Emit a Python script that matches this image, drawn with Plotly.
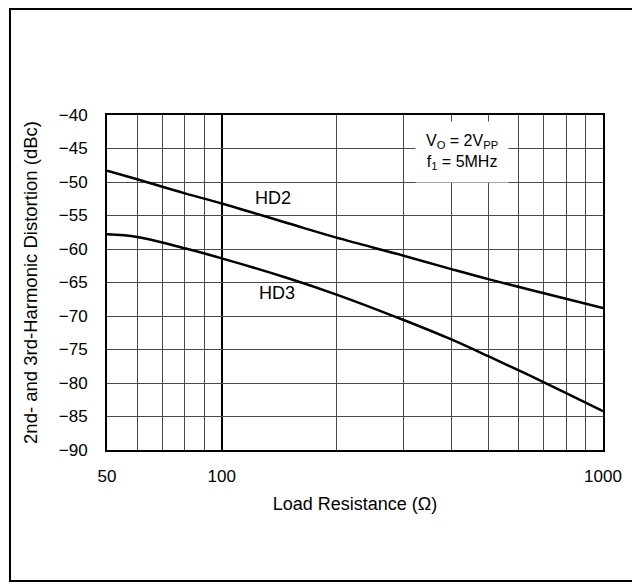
import plotly.graph_objects as go

# load resistance (ohm) and distortion
load_ohm = [50, 60, 80, 100, 150, 200, 300, 400, 500, 700, 1000]
hd2_dbc = [-48.3, -49.6, -51.7, -53.2, -56.2, -58.3, -61.0, -63.0, -64.5, -66.6, -68.8]
hd3_dbc = [-57.8, -58.2, -59.9, -61.4, -64.4, -66.8, -70.6, -73.5, -76.0, -79.9, -84.2]

x_ticks = [50, 100, 1000]
x_minor = [60, 70, 80, 90, 200, 300, 400, 500, 600, 700, 800, 900]

FONT = "Liberation Sans, Arial, sans-serif"

fig = go.Figure()
fig.add_trace(go.Scatter(x=load_ohm, y=hd2_dbc, mode="lines", name="HD2",
                         line=dict(color="black", width=2.5, shape="spline")))
fig.add_trace(go.Scatter(x=load_ohm, y=hd3_dbc, mode="lines", name="HD3",
                         line=dict(color="black", width=2.5, shape="spline")))

fig.update_xaxes(type="log", range=[1.69897, 3.0],
                 tickmode="array", tickvals=x_ticks, ticktext=[str(v) for v in x_ticks],
                 showgrid=True, gridcolor="black", gridwidth=2,
                 minor=dict(tickmode="array", tickvals=x_minor, showgrid=True,
                            gridcolor="#4a4a4a", gridwidth=1),
                 showline=True, linecolor="black", linewidth=2, mirror=True,
                 ticks="", ticklabelstandoff=10,
                 tickfont=dict(size=17, color="black", family=FONT),
                 title=dict(text="Load Resistance (Ω)", standoff=12,
                            font=dict(size=18, color="black", family=FONT)),
                 zeroline=False)
fig.update_yaxes(range=[-90, -40], dtick=5, tick0=-90,
                 showgrid=True, gridcolor="#4a4a4a", gridwidth=1,
                 showline=True, linecolor="black", linewidth=2, mirror=True,
                 ticks="", ticklabelstandoff=14,
                 tickfont=dict(size=17, color="black", family=FONT),
                 title=dict(text="2nd- and 3rd-Harmonic Distortion (dBc)", standoff=16,
                            font=dict(size=18.5, color="black", family=FONT)),
                 zeroline=False)

# curve labels
fig.add_annotation(x=2.134, y=-52.4, text="HD2", showarrow=False,
                   font=dict(size=18, color="black", family=FONT))
fig.add_annotation(x=2.145, y=-66.6, text="HD3", showarrow=False,
                   font=dict(size=18, color="black", family=FONT))
# conditions box
fig.add_annotation(xref="paper", yref="paper", x=0.716, y=0.89,
                   xanchor="center", yanchor="middle",
                   text="V<sub>O</sub> = 2V<sub>PP</sub><br>f<sub>1</sub> = 5MHz",
                   showarrow=False, bgcolor="white", borderpad=10,
                   font=dict(size=16, color="black", family=FONT))

# outer frame (right side runs off the page in the reference)
fig.add_shape(type="path", xref="paper", yref="paper",
              path="M 1.1,1.3164 L -0.1956,1.3164 L -0.1956,-0.391 L 1.1,-0.391",
              line=dict(color="black", width=2), layer="above")

fig.update_layout(width=632, height=576, showlegend=False,
                  margin=dict(l=99, r=37, t=107, b=134),
                  paper_bgcolor="white", plot_bgcolor="white",
                  font=dict(family=FONT, color="black"))

fig.write_html("out.html")
